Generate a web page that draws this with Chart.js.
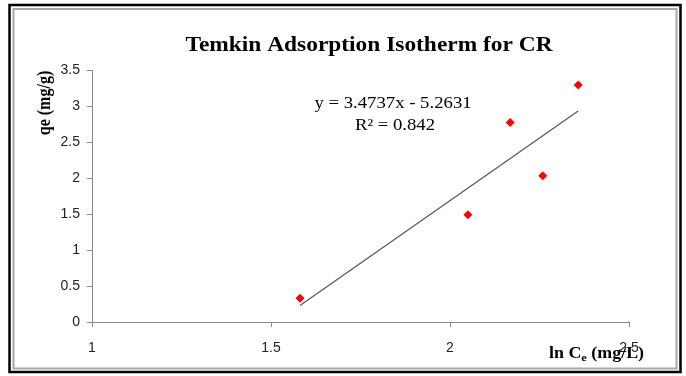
<!DOCTYPE html>
<html>
<head>
<meta charset="utf-8">
<script src="https://cdn.jsdelivr.net/npm/chart.js@4"></script>
<style>
  html, body { margin: 0; padding: 0; background: #fff; }
  canvas { display: block; }
</style>
</head>
<body>
<canvas id="chart" width="686" height="376"></canvas>
<script>
/* DATA */
const lnCe = [1.581, 2.050, 2.168, 2.259, 2.358];
const qe   = [0.33, 1.49, 2.77, 2.03, 3.29];
const trendX = [1.581, 2.358];
const trendY = [0.23, 2.93];
const xTicks = [1, 1.5, 2, 2.5];
const yTicks = [0, 0.5, 1, 1.5, 2, 2.5, 3, 3.5];

const titleText = "Temkin Adsorption Isotherm for CR";
const equationText = "y = 3.4737x - 5.2631";
const r2Text = "R² = 0.842";

const SERIF = "'Liberation Serif', 'Times New Roman', serif";
const AXIS = "#8a8a8a";

/* TEXTO */
function drawText(ctx, s, x, y, font, sx, align) {
  ctx.save();
  ctx.translate(x, y);
  ctx.scale(sx, 1);
  ctx.font = font;
  ctx.fillStyle = "#000";
  ctx.textAlign = align || "center";
  ctx.textBaseline = "middle";
  ctx.fillText(s, 0, 0);
  ctx.restore();
}

const decor = {
  id: "decor",
  beforeDraw(chart) {
    const ctx = chart.ctx;
    ctx.save();
    ctx.fillStyle = "#fff";
    ctx.fillRect(0, 0, chart.width, chart.height);
    // marco negro
    ctx.strokeStyle = "#000";
    ctx.lineWidth = 2.5;
    ctx.strokeRect(9.5, 5, 671, 367);
    // marco gris
    ctx.strokeStyle = "#a8a8a8";
    ctx.lineWidth = 2;
    ctx.strokeRect(13.5, 9, 663, 359.5);
    ctx.restore();
  },
  afterDraw(chart) {
    const ctx = chart.ctx;
    drawText(ctx, titleText, 369, 46, "bold 20px " + SERIF, 1.17);
    drawText(ctx, equationText, 393, 104, "16px " + SERIF, 1.17);
    drawText(ctx, r2Text, 395, 126, "16px " + SERIF, 1.17);

    // eje y
    ctx.save();
    ctx.translate(45, 103);
    ctx.rotate(-Math.PI / 2);
    ctx.scale(1, 1.15);
    ctx.font = "bold 16px " + SERIF;
    ctx.fillStyle = "#000";
    ctx.textAlign = "center";
    ctx.textBaseline = "middle";
    ctx.fillText("qe (mg/g)", 0, 0);
    ctx.restore();

    // eje x con subindice
    ctx.save();
    ctx.translate(549, 358);
    ctx.scale(1.12, 1);
    ctx.fillStyle = "#000";
    ctx.textBaseline = "alphabetic";
    ctx.textAlign = "left";
    ctx.font = "bold 16px " + SERIF;
    let px = 0;
    ctx.fillText("ln C", px, 0);
    px += ctx.measureText("ln C").width;
    ctx.font = "bold 11px " + SERIF;
    ctx.fillText("e", px, 3);
    px += ctx.measureText("e").width;
    ctx.font = "bold 16px " + SERIF;
    ctx.fillText(" (mg/L)", px, 0);
    ctx.restore();
  }
};

const tickFont = { family: "'Liberation Sans', Arial, sans-serif", size: 14 };
const fmt = v => String(v);

new Chart(document.getElementById("chart"), {
  type: "scatter",
  data: {
    datasets: [
      {
        label: "qe",
        data: lnCe.map((x, i) => ({ x, y: qe[i] })),
        pointStyle: "rectRot",
        pointRadius: 4.5,
        backgroundColor: "#ff0000",
        borderWidth: 0,
        order: 1
      },
      {
        label: "Linear",
        data: trendX.map((x, i) => ({ x, y: trendY[i] })),
        showLine: true,
        borderColor: "#5a5a5a",
        borderWidth: 1.3,
        pointRadius: 0,
        order: 2
      }
    ]
  },
  options: {
    responsive: false,
    animation: false,
    layout: { padding: { left: 0, top: 70, right: 57, bottom: 0 } },
    plugins: {
      legend: { display: false },
      title: { display: false },
      tooltip: { enabled: false }
    },
    scales: {
      x: {
        type: "linear",
        min: 1, max: 2.5,
        afterBuildTicks: s => { s.ticks = xTicks.map(v => ({ value: v })); },
        afterFit: s => { s.height = 54; },
        border: { color: AXIS, width: 1 },
        grid: { display: true, drawOnChartArea: false, drawTicks: true, tickLength: 5, color: AXIS },
        ticks: { padding: 13, font: tickFont, color: "#222", maxRotation: 0, callback: fmt }
      },
      y: {
        type: "linear",
        min: 0, max: 3.5,
        afterBuildTicks: s => { s.ticks = yTicks.map(v => ({ value: v })); },
        afterFit: s => { s.width = 92; },
        border: { color: AXIS, width: 1 },
        grid: { display: true, drawOnChartArea: false, drawTicks: true, tickLength: 5, color: AXIS },
        ticks: { padding: 7, font: tickFont, color: "#222", callback: fmt }
      }
    }
  },
  plugins: [decor]
});
</script>
</body>
</html>
